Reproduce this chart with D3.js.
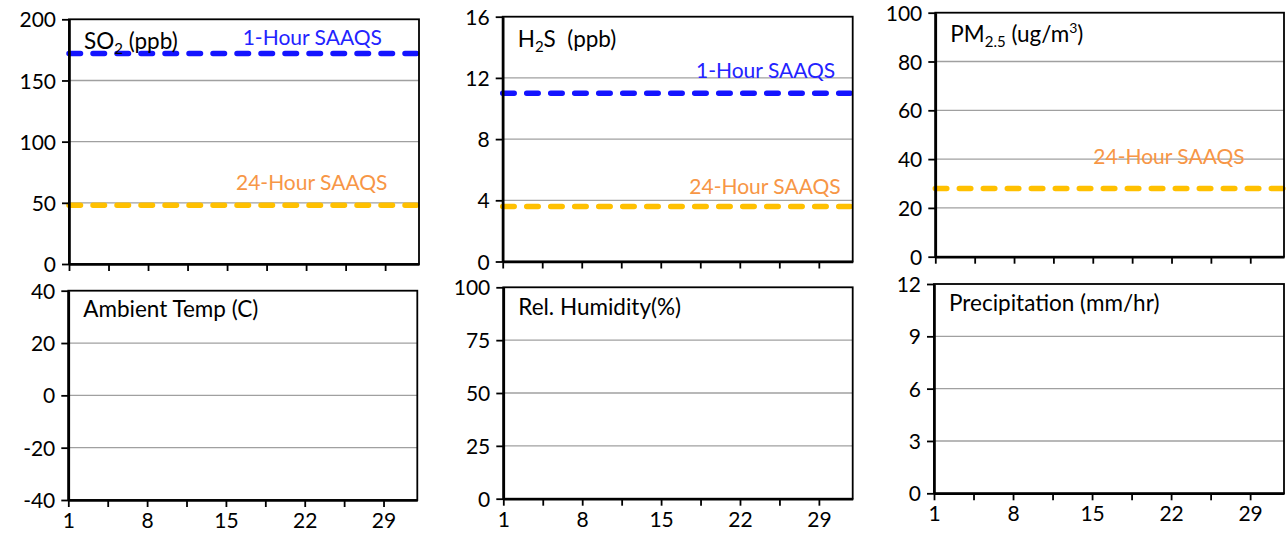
<!DOCTYPE html>
<html><head><meta charset="utf-8">
<script src="https://cdn.jsdelivr.net/npm/d3@7"></script>
<style>
body{margin:0;background:#fff}
svg{display:block}
text{font-family:Lato, "Noto Sans", sans-serif}
</style>
</head><body>
<svg id="chart" width="1286" height="533"></svg>
<script>
// ---------- data ----------
const dayDomain = [1, 32];
const xTickValues = [1, 4.5, 8, 11.5, 15, 18.5, 22, 25.5, 29];
const xTickLabels = ["1", "8", "15", "22", "29"];

const panelTitles = [
  [{t: "SO"}, {t: "2", sub: true}, {t: " (ppb)"}],
  [{t: "H"}, {t: "2", sub: true}, {t: "S  (ppb)"}],
  [{t: "PM"}, {t: "2.5", sub: true}, {t: " (ug/m"}, {t: "3", sup: true}, {t: ")"}],
  [{t: "Ambient Temp (C)"}],
  [{t: "Rel. Humidity(%)"}],
  [{t: "Precipitation (mm/hr)"}]
];
const yDomains = [[0, 200], [0, 16], [0, 100], [-40, 40], [0, 100], [0, 12]];
const yTicks = [
  [0, 50, 100, 150, 200],
  [0, 4, 8, 12, 16],
  [0, 20, 40, 60, 80, 100],
  [-40, -20, 0, 20, 40],
  [0, 25, 50, 75, 100],
  [0, 3, 6, 9, 12]
];
const oneHourLabel = "1-Hour SAAQS";
const dayLabel = "24-Hour SAAQS";
const oneHourStd = [172, 11, null, null, null, null];
const dayStd = [48, 3.6, 28, null, null, null];

// ---------- layout (pixels) ----------
const layout = [
  {l: 69,    r: 419,  t: 19.3,  b: 264,   xLabels: false, titleDy: 29.5},
  {l: 502.7, r: 852.7, t: 16.7, b: 261.5, xLabels: false, titleDy: 30.5},
  {l: 935.3, r: 1284, t: 12.7,  b: 256.7, xLabels: false, titleDy: 29},
  {l: 68.3,  r: 417.3, t: 290.7, b: 500,  xLabels: true,  titleDy: 26.5},
  {l: 503.3, r: 852.7, t: 287.3, b: 498.7, xLabels: true, titleDy: 27.5},
  {l: 934,   r: 1284, t: 284,   b: 493.3, xLabels: true,  titleDy: 26.5}
];
// label placement: start x (px from left edge), baseline offset from line (px)
const oneHourLabelPos = [{dx: 173.7, dy: -8.7}, {dx: 193.3, dy: -15.7}, null, null, null, null];
const dayLabelPos = [{dx: 167, dy: -15.3}, {dx: 186.6, dy: -12.2}, {dx: 158, dy: -24.3}, null, null, null];

const FONT = 21, TITLE_FONT = 22.5;
const BLUE_LINE = "#1414ff", BLUE_TEXT = "#2323ff";
const GOLD_LINE = "#ffc000", ORANGE_TEXT = "#f79646";
const GRID = "#a0a0a0";

const svg = d3.select("#chart");

layout.forEach((L, i) => {
  const g = svg.append("g");
  const x = d3.scaleLinear().domain(dayDomain).range([L.l, L.r]);
  const y = d3.scaleLinear().domain(yDomains[i]).range([L.b, L.t]);

  g.append("rect").attr("x", L.l).attr("y", L.t)
    .attr("width", L.r - L.l).attr("height", L.b - L.t).attr("fill", "#fff");

  // gridlines
  g.append("g").selectAll("line")
    .data(yTicks[i].filter(v => v !== yDomains[i][0] && v !== yDomains[i][1]))
    .join("line")
    .attr("x1", L.l).attr("x2", L.r)
    .attr("y1", d => y(d)).attr("y2", d => y(d))
    .attr("stroke", GRID).attr("stroke-width", 1.3);

  // standard lines
  const stds = [];
  if (dayStd[i] != null) stds.push({v: dayStd[i], c: GOLD_LINE});
  if (oneHourStd[i] != null) stds.push({v: oneHourStd[i], c: BLUE_LINE});
  g.append("g").selectAll("line").data(stds).join("line")
    .attr("x1", x(dayDomain[0])).attr("x2", x(dayDomain[1]))
    .attr("y1", d => y(d.v)).attr("y2", d => y(d.v))
    .attr("stroke", d => d.c).attr("stroke-width", 5.5)
    .attr("stroke-dasharray", "11.5,12.5").attr("stroke-linecap", "round");

  // frame
  g.append("rect").attr("x", L.l).attr("y", L.t)
    .attr("width", L.r - L.l).attr("height", L.b - L.t)
    .attr("fill", "none").attr("stroke", "#000").attr("stroke-width", 1.8);

  // y axis
  const ya = g.append("g").attr("transform", `translate(${L.l},0)`)
    .call(d3.axisLeft(y).tickValues(yTicks[i]).tickSize(7).tickSizeOuter(0).tickPadding(6)
      .tickFormat(d => String(d)));
  ya.select(".domain").attr("stroke", "#000").attr("stroke-width", 2.6);
  ya.selectAll(".tick line").attr("stroke", "#000").attr("stroke-width", 1.8);
  ya.selectAll(".tick text").attr("font-size", FONT).attr("fill", "#000")
    .attr("font-family", "Lato").attr("dy", "0.36em");

  // x axis
  const xa = g.append("g").attr("transform", `translate(0,${L.b})`)
    .call(d3.axisBottom(x).tickValues(xTickValues).tickSize(7).tickSizeOuter(0).tickPadding(6)
      .tickFormat(d => (L.xLabels && xTickLabels.includes(String(d))) ? String(d) : ""));
  xa.select(".domain").attr("stroke", "#000").attr("stroke-width", 2.6);
  xa.selectAll(".tick line").attr("stroke", "#000").attr("stroke-width", 1.8);
  xa.selectAll(".tick text").attr("font-size", FONT).attr("fill", "#000")
    .attr("font-family", "Lato");

  // title
  const tt = g.append("text").attr("x", L.l + 15).attr("y", L.t + L.titleDy)
    .attr("font-size", TITLE_FONT).attr("fill", "#000")
    .attr("xml:space", "preserve").style("white-space", "pre");
  panelTitles[i].forEach((s, k) => {
    const prev = panelTitles[i][k - 1];
    const ts = tt.append("tspan").text(s.t);
    if (s.sub) ts.attr("font-size", 15).attr("dy", 5);
    else if (s.sup) ts.attr("font-size", 14).attr("dy", -9);
    else if (prev) ts.attr("dy", prev.sub ? -5 : prev.sup ? 9 : 0);
  });

  // standard labels
  if (oneHourStd[i] != null && oneHourLabelPos[i]) {
    g.append("text").attr("x", L.l + oneHourLabelPos[i].dx)
      .attr("y", y(oneHourStd[i]) + oneHourLabelPos[i].dy)
      .attr("font-size", FONT).attr("fill", BLUE_TEXT).text(oneHourLabel);
  }
  if (dayStd[i] != null && dayLabelPos[i]) {
    g.append("text").attr("x", L.l + dayLabelPos[i].dx)
      .attr("y", y(dayStd[i]) + dayLabelPos[i].dy)
      .attr("font-size", FONT).attr("fill", ORANGE_TEXT).text(dayLabel);
  }
});
</script>
</body></html>
